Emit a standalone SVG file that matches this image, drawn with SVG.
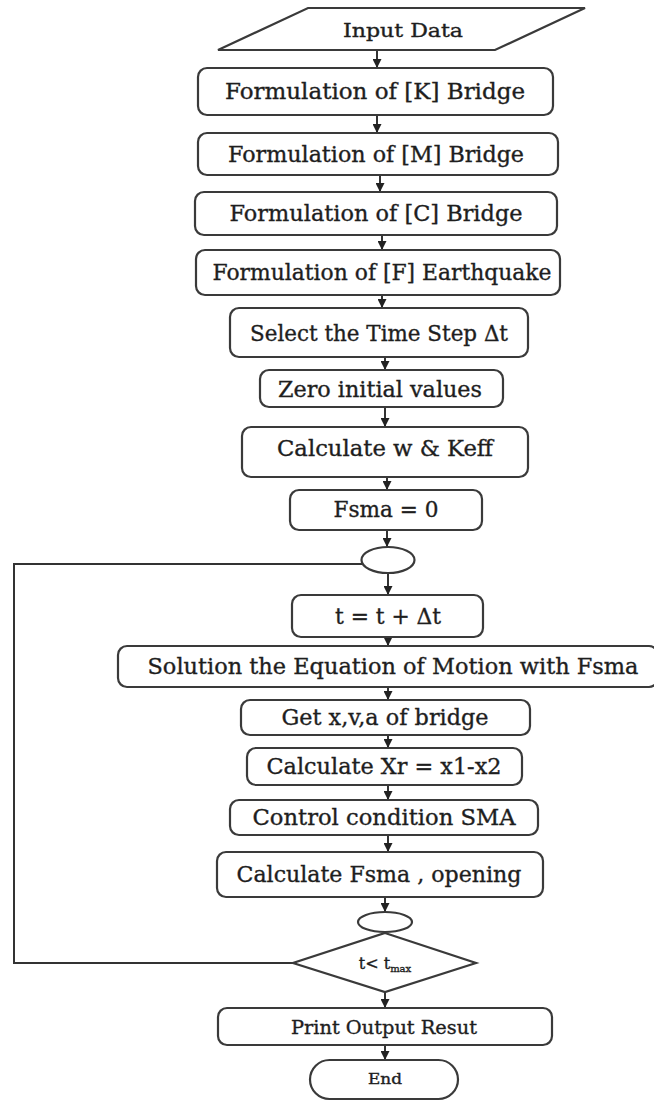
<svg xmlns="http://www.w3.org/2000/svg" width="654" height="1101" viewBox="0 0 654 1101">
<style>
.box{fill:#fff;stroke:#3a3a3a;stroke-width:2.2}
.t{font-family:"DejaVu Serif","Liberation Serif",serif;fill:#1e1e1e;stroke:#1e1e1e;stroke-width:0.35;text-anchor:middle}
.m{font-size:22px}
.c{stroke:#333;stroke-width:2;fill:none}
</style>
<defs>
<marker id="ah" viewBox="0 0 10 10" refX="10" refY="5" markerWidth="9" markerHeight="9" markerUnits="userSpaceOnUse" orient="auto">
<path d="M0,0 L10,5 L0,10 z" fill="#222"/>
</marker>
</defs>
<rect width="654" height="1101" fill="#fff"/>
<g id="connectors">
<line class="c" x1="377" y1="50" x2="377" y2="68" marker-end="url(#ah)"/>
<line class="c" x1="377" y1="115" x2="377" y2="133" marker-end="url(#ah)"/>
<line class="c" x1="380" y1="175" x2="380" y2="192" marker-end="url(#ah)"/>
<line class="c" x1="382" y1="235" x2="382" y2="250" marker-end="url(#ah)"/>
<line class="c" x1="382" y1="295" x2="382" y2="308" marker-end="url(#ah)"/>
<line class="c" x1="385" y1="357" x2="385" y2="370" marker-end="url(#ah)"/>
<line class="c" x1="385" y1="407" x2="385" y2="427" marker-end="url(#ah)"/>
<line class="c" x1="387" y1="477" x2="387" y2="490" marker-end="url(#ah)"/>
<line class="c" x1="387" y1="530" x2="387" y2="547" marker-end="url(#ah)"/>
<line class="c" x1="388" y1="573" x2="388" y2="595" marker-end="url(#ah)"/>
<line class="c" x1="388" y1="637" x2="388" y2="646" marker-end="url(#ah)"/>
<line class="c" x1="388" y1="687" x2="388" y2="700" marker-end="url(#ah)"/>
<line class="c" x1="388" y1="735" x2="388" y2="748" marker-end="url(#ah)"/>
<line class="c" x1="388" y1="785" x2="388" y2="800" marker-end="url(#ah)"/>
<line class="c" x1="388" y1="835" x2="388" y2="852" marker-end="url(#ah)"/>
<line class="c" x1="385" y1="897" x2="385" y2="912" marker-end="url(#ah)"/>
<line class="c" x1="385" y1="992" x2="385" y2="1008" marker-end="url(#ah)"/>
<line class="c" x1="385" y1="1045" x2="385" y2="1060" marker-end="url(#ah)"/>
<polyline class="c" points="293,963 14,963 14,564 362,564"/>
</g>
<g id="input">
<polygon class="box" points="308,8 585,8 495,50 218,50"/>
<text class="t" x="403" y="37" font-size="18" textLength="120" lengthAdjust="spacingAndGlyphs">Input Data</text>
</g>
<g id="formK">
<rect class="box" x="198" y="68" width="355" height="47" rx="9"/>
<text class="t m" x="375" y="99" textLength="300" lengthAdjust="spacingAndGlyphs">Formulation of [K] Bridge</text>
</g>
<g id="formM">
<rect class="box" x="198" y="133" width="360" height="42" rx="9"/>
<text class="t m" x="376" y="162" textLength="296" lengthAdjust="spacingAndGlyphs">Formulation of [M] Bridge</text>
</g>
<g id="formC">
<rect class="box" x="195" y="192" width="362" height="43" rx="9"/>
<text class="t m" x="376" y="221" textLength="293" lengthAdjust="spacingAndGlyphs">Formulation of [C] Bridge</text>
</g>
<g id="formF">
<rect class="box" x="196" y="250" width="364" height="45" rx="9"/>
<text class="t m" x="382" y="280" textLength="339" lengthAdjust="spacingAndGlyphs">Formulation of [F] Earthquake</text>
</g>
<g id="timestep">
<rect class="box" x="230" y="308" width="298" height="49" rx="9"/>
<text class="t m" x="379" y="341" textLength="258" lengthAdjust="spacingAndGlyphs">Select the Time Step Δt</text>
</g>
<g id="zero">
<rect class="box" x="260" y="370" width="243" height="37" rx="9"/>
<text class="t m" x="380" y="397" textLength="204" lengthAdjust="spacingAndGlyphs">Zero initial values</text>
</g>
<g id="calcw">
<rect class="box" x="242" y="427" width="286" height="50" rx="9"/>
<text class="t m" x="385" y="456" textLength="216" lengthAdjust="spacingAndGlyphs">Calculate w &amp; Keff</text>
</g>
<g id="fsma0">
<rect class="box" x="290" y="490" width="192" height="40" rx="9"/>
<text class="t m" x="386" y="517" textLength="105" lengthAdjust="spacingAndGlyphs">Fsma = 0</text>
</g>
<g id="join1">
<ellipse class="box" cx="388" cy="560" rx="26.5" ry="13"/>
</g>
<g id="tstep">
<rect class="box" x="292" y="595" width="191" height="42" rx="9"/>
<text class="t m" x="388" y="624" textLength="106" lengthAdjust="spacingAndGlyphs">t = t + Δt</text>
</g>
<g id="solution">
<rect class="box" x="118" y="646" width="540" height="41" rx="9"/>
<text class="t m" x="393" y="674" textLength="491" lengthAdjust="spacingAndGlyphs">Solution the Equation of Motion with Fsma</text>
</g>
<g id="getxva">
<rect class="box" x="241" y="700" width="289" height="35" rx="9"/>
<text class="t m" x="385" y="725" textLength="207" lengthAdjust="spacingAndGlyphs">Get x,v,a of bridge</text>
</g>
<g id="calcxr">
<rect class="box" x="247" y="748" width="275" height="37" rx="9"/>
<text class="t m" x="384" y="774" textLength="235" lengthAdjust="spacingAndGlyphs">Calculate Xr = x1-x2</text>
</g>
<g id="control">
<rect class="box" x="230" y="800" width="308" height="35" rx="9"/>
<text class="t m" x="384" y="825" textLength="263" lengthAdjust="spacingAndGlyphs">Control condition SMA</text>
</g>
<g id="calcfsma">
<rect class="box" x="217" y="852" width="326" height="45" rx="9"/>
<text class="t m" x="379" y="882" textLength="285" lengthAdjust="spacingAndGlyphs">Calculate Fsma , opening</text>
</g>
<g id="join2">
<ellipse class="box" cx="385" cy="922" rx="27" ry="10"/>
</g>
<g id="decision">
<polygon class="box" points="385,933 476,963 385,992 293,963"/>
<text class="t" x="385" y="969" font-size="16"><tspan>t&lt; t</tspan><tspan font-size="10" dy="3">max</tspan></text>
</g>
<g id="print">
<rect class="box" x="218" y="1008" width="334" height="37" rx="9"/>
<text class="t" x="384" y="1034" font-size="19" textLength="186" lengthAdjust="spacingAndGlyphs">Print Output Resut</text>
</g>
<g id="end">
<rect class="box" x="310" y="1060" width="148" height="39" rx="19.5"/>
<text class="t" x="385" y="1084" font-size="14" textLength="34" lengthAdjust="spacingAndGlyphs">End</text>
</g>
</svg>
